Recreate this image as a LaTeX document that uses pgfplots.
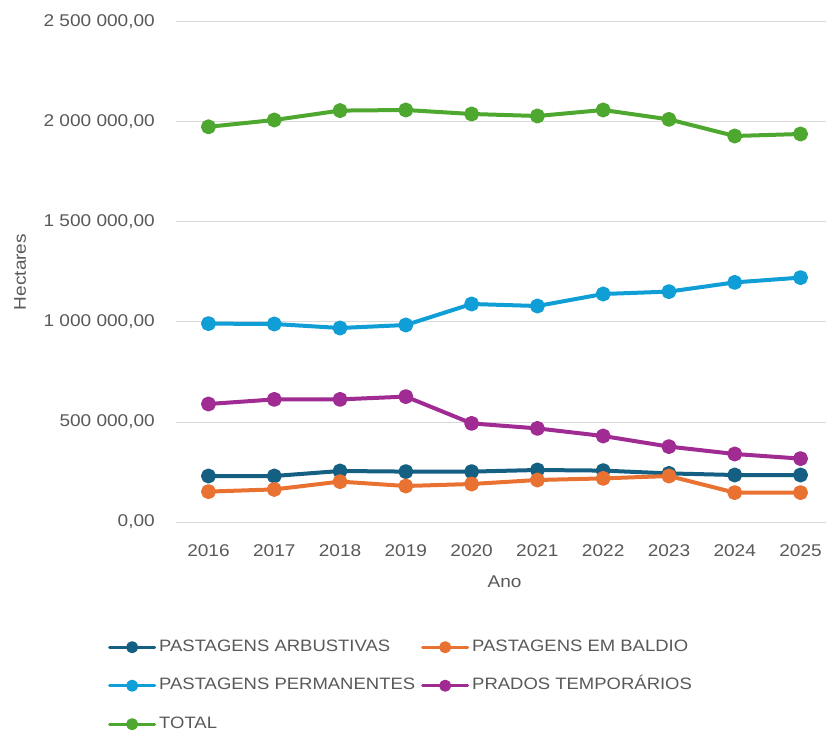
\documentclass[border=0pt]{standalone}
\usepackage{pgfplots}
\pgfplotsset{compat=1.18}
\usepackage{fontspec}
\setmainfont[FakeStretch=1.12]{Liberation Sans}
\definecolor{cArb}{HTML}{156082}
\definecolor{cBal}{HTML}{E97132}
\definecolor{cPer}{HTML}{0F9ED5}
\definecolor{cPra}{HTML}{A02B93}
\definecolor{cTot}{HTML}{4EA72E}
\definecolor{cTxt}{HTML}{595959}
\definecolor{cGrid}{HTML}{D9D9D9}
\begin{document}
\begin{tikzpicture}
\begin{axis}[
  at={(0,0)}, anchor=south west,
  scale only axis, width=657.8pt, height=500pt,
  xmin=2015.5, xmax=2025.5, ymin=0, ymax=2500000,
  scaled y ticks=false,
  axis line style={draw=none}, tick style={draw=none},
  ymajorgrids, grid style={cGrid, line width=1pt},
  xtick={2016,2017,2018,2019,2020,2021,2022,2023,2024,2025},
  xticklabels={2016,2017,2018,2019,2020,2021,2022,2023,2024,2025},
  ytick={0,500000,1000000,1500000,2000000,2500000},
  yticklabels={{0,00},{500 000,00},{1 000 000,00},{1 500 000,00},{2 000 000,00},{2 500 000,00}},
  ticklabel style={font=\fontsize{17}{20}\selectfont, text=cTxt, inner sep=0pt},
  xticklabel style={anchor=north, yshift=-22pt},
  yticklabel style={anchor=east, xshift=-20.6pt},
  xlabel={Ano}, ylabel={Hectares},
  label style={font=\fontsize{17}{20}\selectfont, text=cTxt, inner sep=0pt},
  xlabel style={at={(axis description cs:0.5,0)}, anchor=north, yshift=-54pt},
  ylabel style={at={(axis description cs:0,0.5)}, anchor=center, yshift=155.6pt},
  clip=false,
  legend columns=2,
  legend cell align=left,
  legend style={at={(axis description cs:-0.1028,-0.234)}, anchor=north west,
    draw=none, fill=none, inner sep=0pt,
    font=\fontsize{16.5}{19}\selectfont, text=cTxt,
    nodes={inner sep=0pt, text height=12pt, text depth=4pt},
    row sep=22.5pt,
    /tikz/every odd column/.append style={column sep=3pt},
    /tikz/every even column/.append style={column sep=6pt}},
  legend image code/.code={
    \draw[#1, line width=3pt, mark=none] (0pt,0pt) -- (45pt,0pt);
    \draw[#1, draw=none, mark size=4pt] plot coordinates {(22.5pt,0pt)};
  },
  every axis plot/.append style={line width=4pt, mark=*, mark size=5.5pt, line join=round, line cap=round},
]
\addplot[color=cArb] coordinates {(2016,230000) (2017,230000) (2018,255000) (2019,252000) (2020,252000) (2021,260000) (2022,257000) (2023,243000) (2024,235000) (2025,235000)};
\addlegendentry{PASTAGENS ARBUSTIVAS}
\addplot[color=cBal] coordinates {(2016,152000) (2017,163000) (2018,202000) (2019,180000) (2020,190000) (2021,210000) (2022,218000) (2023,230000) (2024,147000) (2025,147000)};
\addlegendentry{PASTAGENS EM BALDIO}
\addplot[color=cPer] coordinates {(2016,992000) (2017,990000) (2018,970000) (2019,985000) (2020,1090000) (2021,1080000) (2022,1140000) (2023,1152000) (2024,1198000) (2025,1222000)};
\addlegendentry{PASTAGENS PERMANENTES}
\addplot[color=cPra] coordinates {(2016,590000) (2017,613000) (2018,613000) (2019,627000) (2020,493000) (2021,468000) (2022,430000) (2023,377000) (2024,340000) (2025,317000)};
\addlegendentry{PRADOS TEMPORÁRIOS}
\addplot[color=cTot] coordinates {(2016,1976000) (2017,2010000) (2018,2057000) (2019,2060000) (2020,2040000) (2021,2030000) (2022,2060000) (2023,2013000) (2024,1930000) (2025,1940000)};
\addlegendentry{TOTAL}
\end{axis}
\pgfresetboundingbox
\useasboundingbox (-175.6pt,-211pt) rectangle (650.4pt,522pt);
\end{tikzpicture}
\end{document}
